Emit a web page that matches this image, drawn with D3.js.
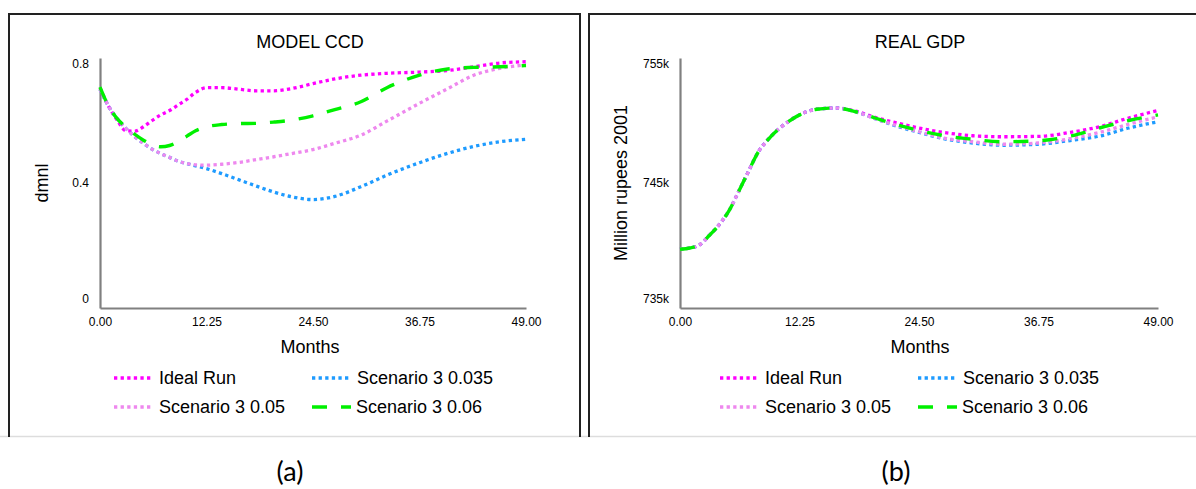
<!DOCTYPE html>
<html>
<head>
<meta charset="utf-8">
<script src="https://cdn.jsdelivr.net/npm/d3@7"></script>
<style>
  html, body { margin: 0; padding: 0; background: #fff; }
  svg { display: block; font-family: "Liberation Sans", Arial, sans-serif; }
</style>
</head>
<body>
<svg id="chart" width="1196" height="489"></svg>
<script>
// Simulation time axis (months)
const months = [0, 1, 2, 3, 4, 5, 6, 7, 8, 9, 10, 11, 12.25, 14, 16, 18, 20, 22, 24.5, 27, 30, 33, 36.75, 40, 43, 46, 49];
const xTicks = [0, 12.25, 24.5, 36.75, 49];

const seriesNames = ["Ideal Run", "Scenario 3 0.035", "Scenario 3 0.05", "Scenario 3 0.06"];

// MODEL CCD (dmnl)
const ccdIdeal = [0.704, 0.645, 0.600, 0.567, 0.566, 0.580, 0.600, 0.618, 0.632, 0.650, 0.668, 0.690, 0.705, 0.705, 0.700, 0.695, 0.695, 0.702, 0.718, 0.733, 0.745, 0.751, 0.755, 0.760, 0.772, 0.784, 0.788];
const ccd035  = [0.700, 0.645, 0.605, 0.574, 0.548, 0.527, 0.508, 0.494, 0.482, 0.470, 0.462, 0.455, 0.446, 0.430, 0.410, 0.390, 0.371, 0.356, 0.347, 0.357, 0.388, 0.425, 0.465, 0.495, 0.517, 0.532, 0.540];
const ccd05   = [0.700, 0.645, 0.605, 0.574, 0.548, 0.527, 0.508, 0.494, 0.482, 0.470, 0.462, 0.458, 0.457, 0.460, 0.466, 0.475, 0.484, 0.494, 0.507, 0.527, 0.553, 0.598, 0.655, 0.702, 0.745, 0.767, 0.778];
const ccd06   = [0.707, 0.645, 0.605, 0.578, 0.556, 0.537, 0.523, 0.516, 0.520, 0.533, 0.550, 0.567, 0.580, 0.587, 0.590, 0.591, 0.595, 0.601, 0.615, 0.635, 0.660, 0.705, 0.745, 0.765, 0.770, 0.772, 0.776];
const ccdTicks = [0, 0.4, 0.8];

// REAL GDP (million rupees 2001)
const gdpIdeal = [739700, 739800, 740050, 740800, 741650, 742750, 744300, 745900, 747450, 748450, 749250, 749850, 750450, 750900, 751000, 750750, 750250, 749850, 749400, 749050, 748780, 748700, 748730, 749050, 749500, 750200, 750800];
const gdp035  = [739700, 739800, 740050, 740800, 741650, 742750, 744300, 745900, 747450, 748450, 749250, 749850, 750450, 750900, 751000, 750700, 750150, 749600, 749050, 748550, 748200, 748020, 748100, 748400, 748750, 749400, 749900];
const gdp05   = [739700, 739800, 740050, 740800, 741650, 742750, 744300, 745900, 747450, 748450, 749250, 749850, 750450, 750900, 751000, 750700, 750150, 749650, 749100, 748600, 748300, 748100, 748200, 748550, 749050, 749700, 750300];
const gdp06   = [739700, 739800, 740050, 740800, 741650, 742750, 744300, 745900, 747450, 748450, 749250, 749850, 750450, 750900, 751000, 750700, 750200, 749700, 749200, 748800, 748500, 748300, 748380, 748750, 749400, 750000, 750450];
const gdpTicks = [735000, 745000, 755000];

// Line styles per series
const styles = [
  { color: "#ff00ff", dash: "3.3,3.3", width: 3.3 },
  { color: "#1e9bff", dash: "3.3,3.3", width: 3.3 },
  { color: "#ee88ee", dash: "3.3,3.3", width: 3.3 },
  { color: "#00f000", dash: "15,14", width: 3.4 }
];

const svg = d3.select("#chart");

// Panel frames
const frame = svg.append("g").attr("fill", "none");
frame.append("line").attr("x1", 0).attr("x2", 1196).attr("y1", 436.5).attr("y2", 436.5).attr("stroke", "#dddddd").attr("stroke-width", 1.5);
frame.append("path").attr("d", "M9,437V14H580V437").attr("stroke", "#222").attr("stroke-width", 2);
frame.append("path").attr("d", "M589,437V14H1196").attr("stroke", "#222").attr("stroke-width", 2);

function drawPanel(opt) {
  const g = svg.append("g");
  const x = d3.scaleLinear().domain([0, 49]).range([opt.left, opt.right]);
  const y = d3.scaleLinear().domain(opt.yDomain).range([308, 58]);

  // Title
  g.append("text").attr("x", opt.center).attr("y", 42).attr("dy", "0.35em")
    .attr("text-anchor", "middle").attr("font-size", 18).attr("fill", "#000").text(opt.title);

  // X axis
  const xa = g.append("g").attr("transform", "translate(0,308)")
    .call(d3.axisBottom(x).tickValues(xTicks).tickSize(0).tickPadding(9).tickFormat(d3.format(".2f")));
  xa.select(".domain").attr("stroke", "#808080").attr("stroke-width", 2.2);
  xa.selectAll("text").attr("font-size", 12).attr("fill", "#000").attr("font-family", "Liberation Sans, Arial, sans-serif");

  // Y axis, end labels tucked inside the axis span
  const ya = g.append("g").attr("transform", `translate(${opt.left},0)`)
    .call(d3.axisLeft(y).tickValues(opt.yTicks).tickSize(0).tickPadding(11).tickFormat(opt.yFormat));
  ya.select(".domain").attr("stroke", "#808080").attr("stroke-width", 2.2);
  ya.selectAll("text").attr("font-size", 12).attr("fill", "#000").attr("font-family", "Liberation Sans, Arial, sans-serif")
    .attr("transform", (d, i) => i === 0 ? "translate(0,-9)" : (i === opt.yTicks.length - 1 ? "translate(0,6)" : null));

  // Axis titles
  g.append("text").attr("x", opt.center).attr("y", 347).attr("dy", "0.35em")
    .attr("text-anchor", "middle").attr("font-size", 18).attr("fill", "#000").text("Months");
  g.append("text").attr("transform", `translate(${opt.yLabelX},183) rotate(-90)`).attr("dy", "0.35em")
    .attr("text-anchor", "middle").attr("font-size", 18).attr("fill", "#000").text(opt.yLabel);

  // Series lines
  const line = d3.line().x(d => x(d[0])).y(d => y(d[1])).curve(d3.curveMonotoneX);
  opt.series.forEach((vals, i) => {
    const s = styles[i];
    g.append("path").datum(months.map((m, k) => [m, vals[k]]))
      .attr("d", line).attr("fill", "none")
      .attr("stroke", s.color).attr("stroke-width", s.width).attr("stroke-dasharray", s.dash);
  });

  // Legend (2 x 2)
  seriesNames.forEach((name, i) => {
    const col = i === 0 || i === 2 ? 0 : 1;
    const row = i < 2 ? 0 : 1;
    const lx = opt.legendX[col];
    const ly = 378 + row * 29;
    const s = styles[i];
    g.append("line").attr("x1", lx).attr("x2", lx + 39).attr("y1", ly).attr("y2", ly)
      .attr("stroke", s.color).attr("stroke-width", s.width).attr("stroke-dasharray", s.dash);
    g.append("text").attr("x", lx + (i === 3 ? 44 : 45)).attr("y", ly).attr("dy", "0.35em")
      .attr("font-size", 18).attr("fill", "#000").text(name);
  });
}

drawPanel({
  left: 100, right: 526, center: 310, title: "MODEL CCD",
  yDomain: [0, 0.8], yTicks: ccdTicks, yFormat: d => d === 0 ? "0" : d3.format(".1f")(d),
  yLabel: "dmnl", yLabelX: 42,
  series: [ccdIdeal, ccd035, ccd05, ccd06],
  legendX: [114, 312]
});

drawPanel({
  left: 680, right: 1158, center: 920, title: "REAL GDP",
  yDomain: [735000, 755000], yTicks: gdpTicks, yFormat: d => (d / 1000) + "k",
  yLabel: "Million rupees 2001", yLabelX: 621,
  series: [gdpIdeal, gdp035, gdp05, gdp06],
  legendX: [720, 918]
});

// Sub-figure captions
svg.append("text").attr("x", 290).attr("y", 472).attr("dy", "0.35em").attr("text-anchor", "middle")
  .attr("font-family", "Lato, 'Open Sans', sans-serif").attr("font-size", 27).attr("fill", "#000").text("(a)");
svg.append("text").attr("x", 896).attr("y", 472).attr("dy", "0.35em").attr("text-anchor", "middle")
  .attr("font-family", "Lato, 'Open Sans', sans-serif").attr("font-size", 27).attr("fill", "#000").text("(b)");
</script>
</body>
</html>
